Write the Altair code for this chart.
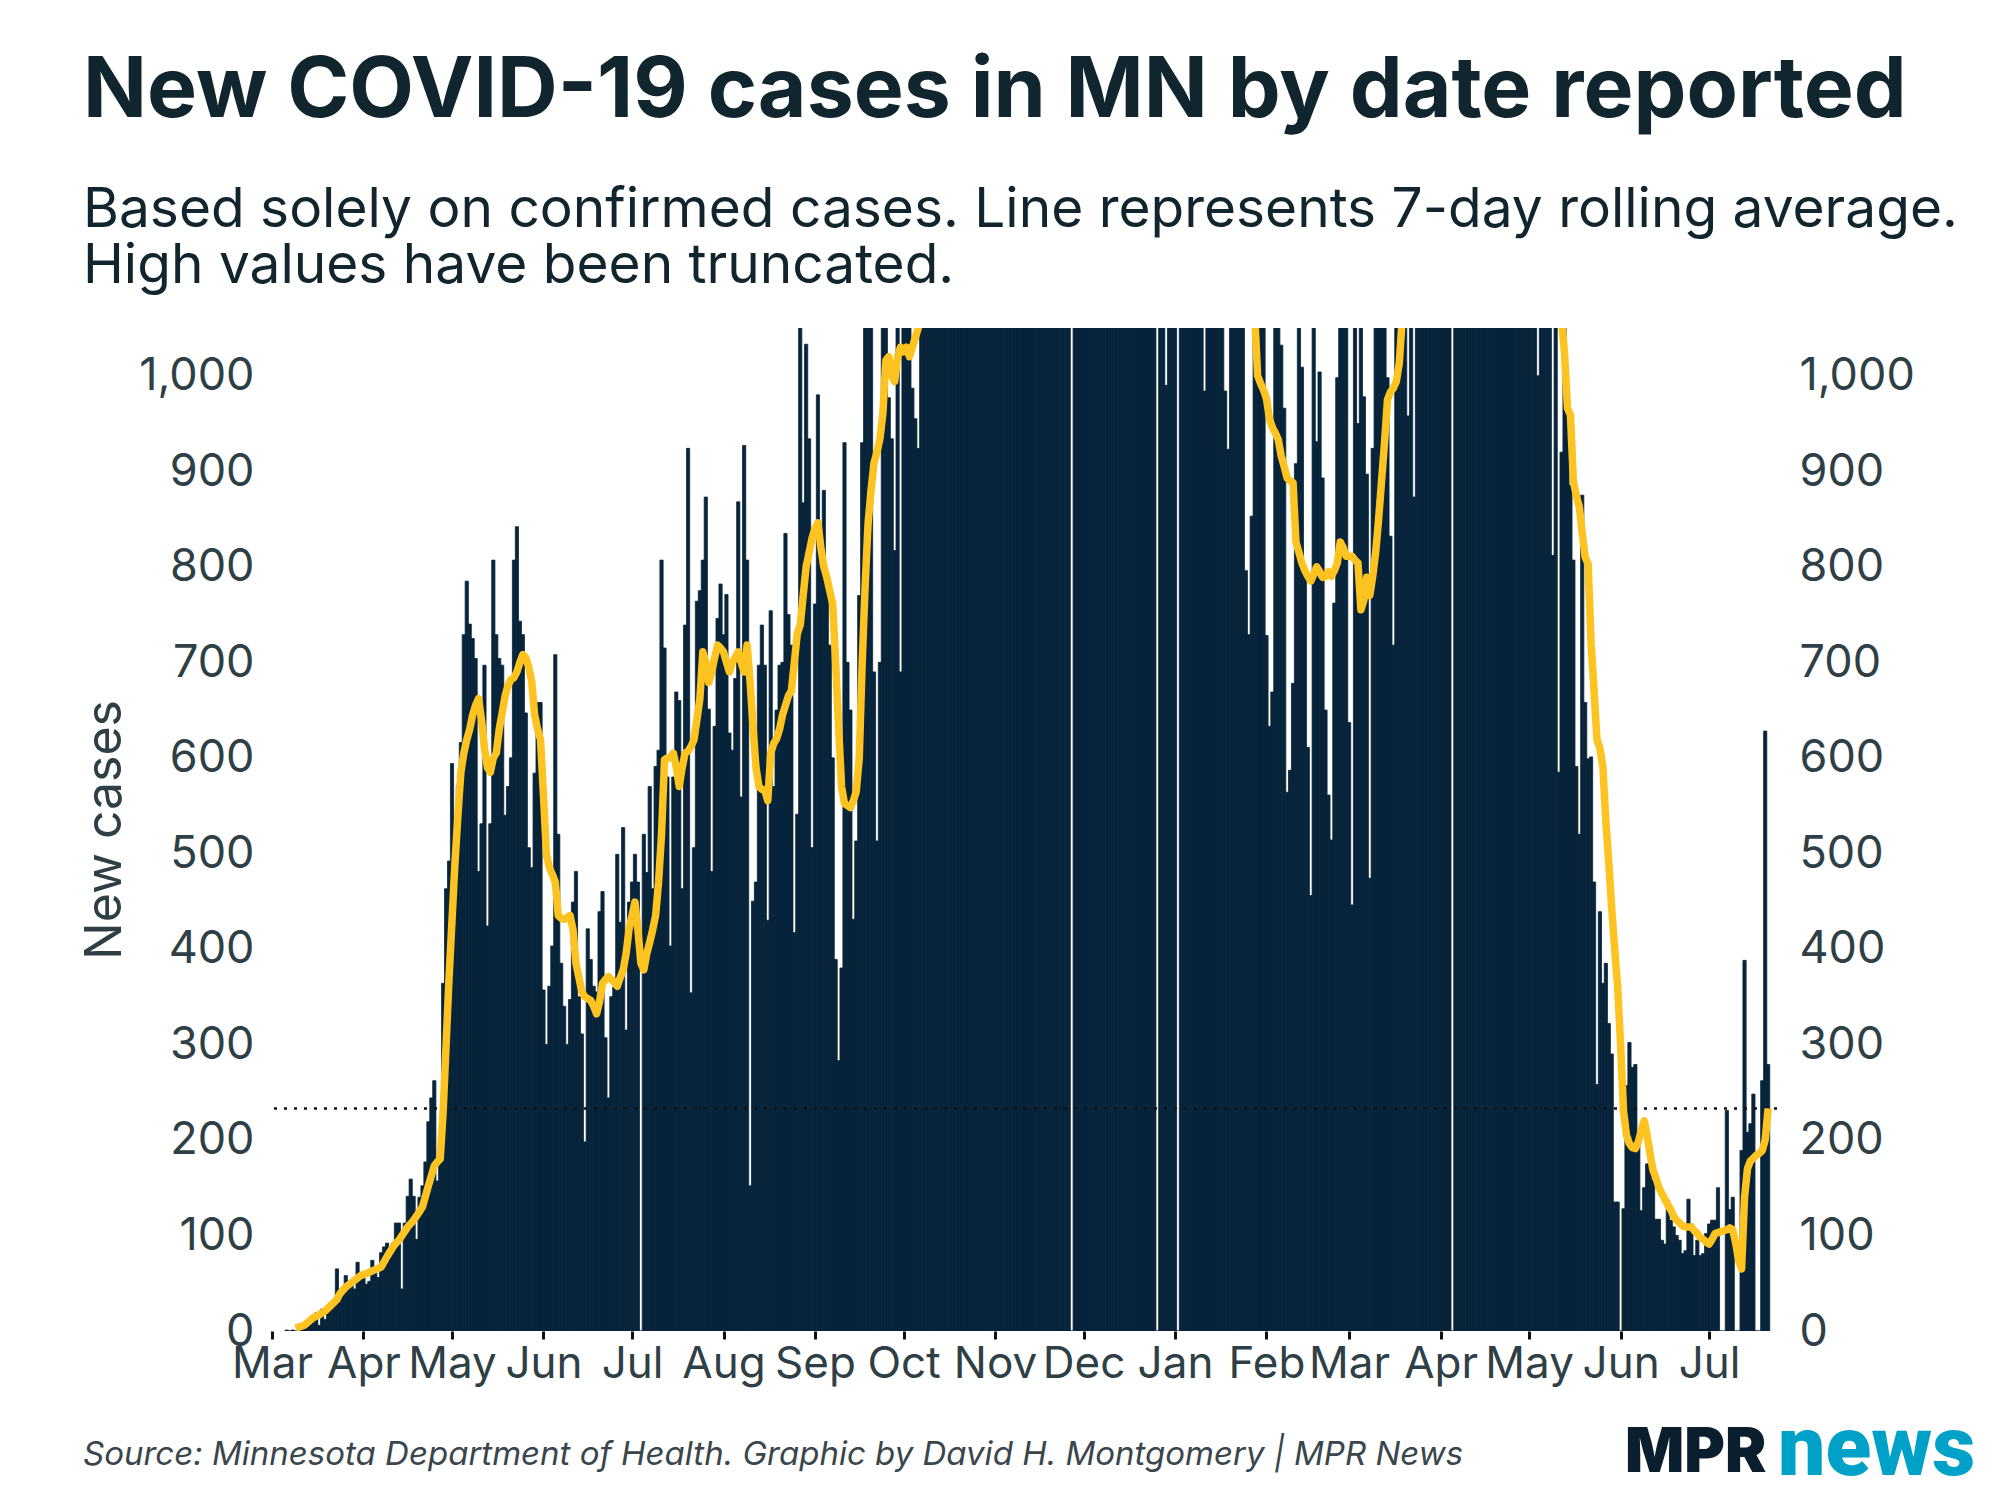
import altair as alt
import pandas as pd

# ---------------- data ----------------
# daily new cases by date reported; each list starts on the date given in `segments`
mar20 = [1, 0, 1, 0, 1, 2, 4, 5, 7, 14, 19, 6, 23, 12, 26, 23, 31, 65, 35, 38, 58, 52, 48, 44, 72, 56]
apr20 = [56, 49, 52, 74, 67, 56, 82, 88, 92, 85, 92, 113, 113, 44, 113, 141, 159, 141, 96, 140,
         152, 177, 219, 244, 262, 157, 200, 364, 463, 492]
may20 = [594, 499, 571, 616, 729, 785, 740, 725, 704, 481, 531, 697, 424, 531, 807, 729, 704, 697,
         540, 570, 600, 807, 842, 743, 729, 647, 506, 485, 584, 658, 658]
jun20 = [357, 300, 361, 403, 708, 520, 385, 340, 300, 347, 449, 481, 350, 311, 198, 421, 389, 361,
         355, 439, 460, 307, 244, 350, 360, 499, 428, 527, 315, 449]
jul20 = [470, 499, 470, 0, 520, 480, 570, 463, 591, 608, 807, 715, 580, 403, 580, 669, 660, 463,
         739, 924, 354, 506, 764, 775, 807, 873, 651, 481, 633, 746, 782]
aug20 = [729, 771, 626, 608, 683, 868, 559, 927, 807, 152, 450, 470, 697, 739, 697, 430, 754, 570,
         650, 697, 700, 835, 750, 718, 417, 541, 1080, 867, 1033, 934, 506]
sep20 = [761, 980, 800, 880, 782, 718, 600, 389, 283, 380, 930, 700, 650, 431, 513, 770, 930, 1260,
         1260, 1100, 690, 513, 700, 1300, 1300, 977, 934, 817, 1150, 690]
oct20 = [1200, 1100, 1250, 987, 955, 924, 1300, 1400, 1500, 1350, 1200, 1250, 1600, 1700, 1800, 1900,
         1600, 1500, 1400, 2000, 2100, 2200, 2300, 1900, 1800, 2100, 2400, 2600, 2700, 3100, 3400]
nov20 = [3500, 3600, 3300, 4000, 4500, 5000, 5500, 5900, 4900, 4600, 5500, 6000, 7000, 7200, 6500,
         5800, 6000, 7200, 8700, 7000, 6500, 5500, 6000, 5400, 5000, 6000, 0, 7000, 4000, 3800]
dec20 = [3500, 4000, 5000, 5500, 6000, 4500, 3800, 3500, 3000, 3200, 3300, 2800, 2500, 2200, 2000,
         2400, 2600, 2800, 2000, 1800, 1500, 1600, 1900, 2100, 1700, 0, 2500, 1400, 990, 1500, 1600]
jan21 = [1800, 0, 2800, 1600, 1500, 1800, 2000, 1700, 1500, 1300, 984, 1400, 1600, 1500, 1300, 1250,
         1150, 984, 923, 1100, 1200, 1300, 1150, 1080, 796, 729, 853, 1100, 1150, 1060, 1080]
feb21 = [728, 633, 669, 1100, 1080, 1032, 966, 564, 587, 678, 908, 1100, 1009, 800, 611, 456, 1090,
         931, 1004, 893, 650, 561, 514, 762, 998, 1100, 1080, 1150]
mar21 = [637, 446, 1100, 950, 1080, 978, 897, 474, 924, 1100, 1200, 1300, 1250, 998, 832, 718, 1500,
         1600, 1400, 1700, 958, 1200, 873, 1900, 2000, 1500, 1300, 2100, 2200, 2300, 1800]
apr21 = [1900, 2000, 1700, 1600, 0, 2800, 1800, 2200, 2100, 2300, 1900, 1700, 2600, 2000, 2300, 2400,
         2500, 1900, 1600, 1800, 2300, 2000, 1800, 1500, 1300, 1900, 1700, 1600, 1400, 1300]
may21 = [1600, 1500, 1300, 1000, 1400, 1200, 1100, 1250, 812, 1150, 585, 920, 1080, 959, 885, 807,
         591, 520, 875, 658, 599, 601, 470, 258, 439, 364, 385, 322, 290, 135, 135]
jun21 = [0, 128, 257, 302, 276, 279, 201, 126, 150, 175, 175, 158, 117, 117, 95, 91, 137, 116, 109,
         100, 95, 81, 84, 138, 112, 79, 95, 79, 81, 102]
jul21 = [112, 116, 116, 150, 0, 0, 231, 127, 140, 0, 0, 189, 388, 208, 217, 248, 0, 0, 262, 628, 279]

segments = [("2020-03-06", mar20), ("2020-04-01", apr20), ("2020-05-01", may20),
            ("2020-06-01", jun20), ("2020-07-01", jul20), ("2020-08-01", aug20),
            ("2020-09-01", sep20), ("2020-10-01", oct20), ("2020-11-01", nov20),
            ("2020-12-01", dec20), ("2021-01-01", jan21), ("2021-02-01", feb21),
            ("2021-03-01", mar21), ("2021-04-01", apr21), ("2021-05-01", may21),
            ("2021-06-01", jun21), ("2021-07-01", jul21)]

# 7-day rolling average as drawn: days after 2020-03-01 and the value
avg_day = [8, 11, 14, 16, 18, 20, 22, 23, 25, 28, 30, 32, 34, 37, 39, 41, 42, 43, 46, 48, 50, 51, 53,
           55, 56, 57, 58, 59, 60, 61, 62, 63, 64, 65, 66, 67, 68, 69, 70, 71, 72, 73, 74, 75, 76,
           77, 78, 79, 80, 81, 82, 83, 84, 85, 86, 87, 88, 89, 90, 91, 92, 93, 94, 95, 96, 97, 98,
           99, 100, 101, 102, 103, 104, 105, 106, 107, 108, 109, 110, 111, 112, 113, 114, 115, 116,
           117, 118, 119, 120, 121, 122, 123, 124, 125, 126, 127, 128, 129, 130, 131, 132, 133, 134,
           135, 136, 137, 138, 139, 140, 141, 142, 143, 144, 145, 146, 147, 148, 149, 150, 151, 152,
           153, 154, 155, 156, 157, 158, 159, 160, 161, 162, 163, 164, 165, 166, 167, 168, 169, 170,
           171, 172, 173, 174, 175, 176, 177, 178, 179, 180, 181, 182, 183, 184, 185, 186, 187, 188,
           189, 190, 191, 192, 193, 194, 195, 196, 197, 198, 199, 200, 201, 202, 203, 204, 205, 206,
           207, 208, 209, 210, 211, 212, 213, 214, 215, 216, 217, 218, 219, 220, 222, 230, 245, 260,
           270, 285, 300, 315, 325, 331, 333, 334, 335, 336, 337, 338, 339, 340, 341, 342, 343, 344,
           345, 346, 347, 348, 349, 350, 351, 352, 353, 354, 355, 356, 357, 358, 359, 360, 361, 362,
           363, 364, 365, 366, 367, 368, 369, 370, 371, 372, 373, 374, 375, 376, 377, 378, 379, 380,
           381, 382, 383, 385, 395, 410, 425, 432, 436, 437, 438, 439, 440, 441, 442, 443, 444, 445,
           446, 447, 448, 449, 450, 451, 452, 453, 454, 455, 456, 457, 458, 459, 460, 461, 462, 463,
           464, 465, 466, 467, 468, 469, 470, 471, 472, 473, 474, 475, 476, 477, 478, 479, 480, 481,
           482, 483, 484, 485, 486, 487, 488, 489, 490, 491, 492, 493, 494, 495, 496, 497, 498, 499,
           500, 501, 502, 503, 504, 505, 506, 507]
avg_val = [3, 6, 14, 17, 21, 27, 33, 39, 46, 53, 58, 60, 63, 67, 78, 88, 92, 95, 109, 116, 125, 130, 152,
           173, 177, 180, 230, 300, 370, 430, 490, 540, 585, 605, 619, 630, 645, 655, 662, 640, 610,
           590, 585, 600, 605, 630, 647, 665, 676, 682, 684, 690, 700, 708, 705, 695, 680, 645, 630,
           619, 560, 499, 485, 478, 470, 435, 432, 431, 433, 435, 420, 385, 370, 355, 350, 348, 346,
           340, 332, 345, 364, 368, 371, 368, 365, 361, 370, 378, 395, 421, 435, 449, 420, 385, 378,
           395, 407, 420, 435, 470, 520, 598, 600, 600, 605, 590, 570, 590, 605, 607, 612, 619, 640,
           662, 711, 700, 679, 690, 705, 718, 715, 711, 700, 690, 700, 705, 711, 700, 690, 718, 680,
           633, 590, 570, 567, 566, 555, 605, 615, 620, 630, 645, 655, 665, 670, 700, 730, 739, 770,
           800, 815, 830, 840, 846, 820, 800, 789, 775, 761, 700, 633, 570, 552, 550, 548, 555, 565,
           600, 700, 780, 846, 880, 909, 920, 934, 960, 1016, 1020, 1000, 994, 1020, 1030, 1025, 1030,
           1020, 1030, 1040, 1050, 1080, 1150, 1400, 2200, 4500, 6000, 5000, 2800, 1600, 1250, 1100,
           1065, 1000, 992, 985, 976, 955, 946, 940, 933, 916, 905, 893, 890, 888, 826, 815, 804, 796,
           790, 785, 792, 800, 795, 789, 790, 795, 790, 796, 804, 826, 820, 811, 811, 811, 807, 804,
           755, 765, 789, 770, 790, 815, 850, 890, 930, 975, 983, 987, 994, 1013, 1060, 1150, 1600,
           1750, 1450, 1200, 1080, 1060, 1023, 966, 959, 890, 874, 863, 835, 810, 803, 720, 670, 619,
           610, 590, 534, 490, 442, 400, 360, 300, 230, 205, 196, 192, 191, 198, 210, 220, 205, 185,
           168, 160, 150, 144, 138, 132, 127, 120, 116, 113, 110, 109, 109, 109, 105, 102, 98, 96, 93,
           91, 96, 102, 103, 104, 105, 106, 108, 106, 92, 74, 65, 140, 170, 178, 181, 184, 186, 189,
           200, 233]

ref_level = [233]          # dotted reference line (latest 7-day average)
y_ticks = list(range(0, 1001, 100))
month_ticks = [(2020, m) for m in range(3, 13)] + [(2021, m) for m in range(1, 8)]

TITLE = "New COVID-19 cases in MN by date reported"
SUB1 = "Based solely on confirmed cases. Line represents 7-day rolling average."
SUB2 = "High values have been truncated."
SOURCE = "Source: Minnesota Department of Health. Graphic by David H. Montgomery | MPR News"

# ---------------- tables ----------------
rows = []
for start, vals in segments:
    s = pd.Timestamp(start)
    for i, v in enumerate(vals):
        d = s + pd.Timedelta(days=i)
        rows.append({"x0": (d - pd.Timedelta(hours=13)).strftime("%Y-%m-%dT%H:%M:%S"),
                     "x1": (d + pd.Timedelta(hours=13)).strftime("%Y-%m-%dT%H:%M:%S"),
                     "cases": v})
bars_df = pd.DataFrame(rows)

base_day = pd.Timestamp("2020-03-01")
avg_df = pd.DataFrame({
    "date": [(base_day + pd.Timedelta(days=d)).strftime("%Y-%m-%dT%H:%M:%S") for d in avg_day],
    "avg": avg_val,
})

# ---------------- styling ----------------
NAVY = "#08243b"
YELLOW = "#fdc320"
INK = "#10252d"
AXIS = "#2f3f46"
FONT = "Inter"

W, H = 1505, 1003

x_scale = alt.Scale(domain=[alt.DateTime(year=2020, month=3, date=1),
                            alt.DateTime(year=2021, month=7, date=24)])
y_scale = alt.Scale(domain=[0, 1050], nice=False, zero=True)

x_axis = alt.Axis(values=[alt.DateTime(year=y, month=m, date=1) for y, m in month_ticks],
                  format="%b", title=None, grid=False, domain=False,
                  ticks=True, tickSize=8, tickWidth=3, tickColor="#111111",
                  labelFont=FONT, labelFontSize=44, labelColor=AXIS, labelPadding=3,
                  labelFlush=False, labelOverlap=False)
left_axis = alt.Axis(values=y_ticks, format=",d", domain=False, ticks=False, grid=False,
                     labelFont=FONT, labelFontSize=45, labelColor=AXIS, labelPadding=18,
                     title="New cases", titleFont=FONT, titleFontSize=50, titleFontWeight="normal",
                     titleColor=AXIS, titleAngle=270, titleX=-152, titleY=H / 2,
                     titleAlign="center", titleBaseline="alphabetic")
right_axis = alt.Axis(orient="right", values=y_ticks, format=",d", domain=False, ticks=False,
                      grid=False, labelFont=FONT, labelFontSize=45, labelColor=AXIS,
                      labelPadding=22, title=None)

bars = alt.Chart(bars_df).mark_rect(color=NAVY, clip=True, stroke=NAVY, strokeWidth=0.8).encode(
    x=alt.X("x0:T", scale=x_scale, axis=x_axis),
    x2="x1:T",
    y=alt.Y("cases:Q", scale=y_scale, axis=left_axis),
    y2=alt.Y2(datum=0),
)

rule = alt.Chart(pd.DataFrame({"level": ref_level})).mark_rule(
    color="#111111", strokeWidth=2.5, strokeDash=[3, 7]
).encode(y=alt.Y("level:Q", scale=y_scale, axis=left_axis))

line = alt.Chart(avg_df).mark_line(color=YELLOW, strokeWidth=7.5, clip=True,
                                   strokeJoin="round").encode(
    x=alt.X("date:T", scale=x_scale, axis=x_axis),
    y=alt.Y("avg:Q", scale=y_scale, axis=left_axis),
)


def label(text, x, y, size, weight="normal", style="normal", color=INK, font=FONT):
    return alt.Chart(pd.DataFrame({"t": [text]})).mark_text(
        align="left", baseline="alphabetic", font=font, fontSize=size,
        fontWeight=weight, fontStyle=style, color=color
    ).encode(x=alt.value(x), y=alt.value(y), text="t:N")


texts = [
    label(TITLE, -189, -211, 84, weight="bold"),
    label(SUB1, -189, -101, 55),
    label(SUB2, -189, -45, 55),
    label(SOURCE, -189, 1137, 33, style="italic", color="#3b464c"),
    label("MPR", 1353, 1144, 62, weight=900, color="#0b1e2d"),
    label("news", 1506, 1147, 84, weight=900, color="#00a1c9", font="Roboto"),
]

inner = alt.layer(bars, rule, line, *texts)

right_layer = alt.Chart(pd.DataFrame({"level": [0]})).mark_rule(opacity=0).encode(
    y=alt.Y("level:Q", scale=y_scale, axis=right_axis)
)

chart = alt.layer(inner, right_layer).resolve_scale(y="independent").properties(
    width=W, height=H,
    padding={"left": 264, "top": 320, "right": 212, "bottom": 160},
    autosize=alt.AutoSizeParams(type="none"),
    background="white",
).configure_view(strokeWidth=0)

chart.save("out.html", embed_options={"renderer": "svg", "actions": False})
